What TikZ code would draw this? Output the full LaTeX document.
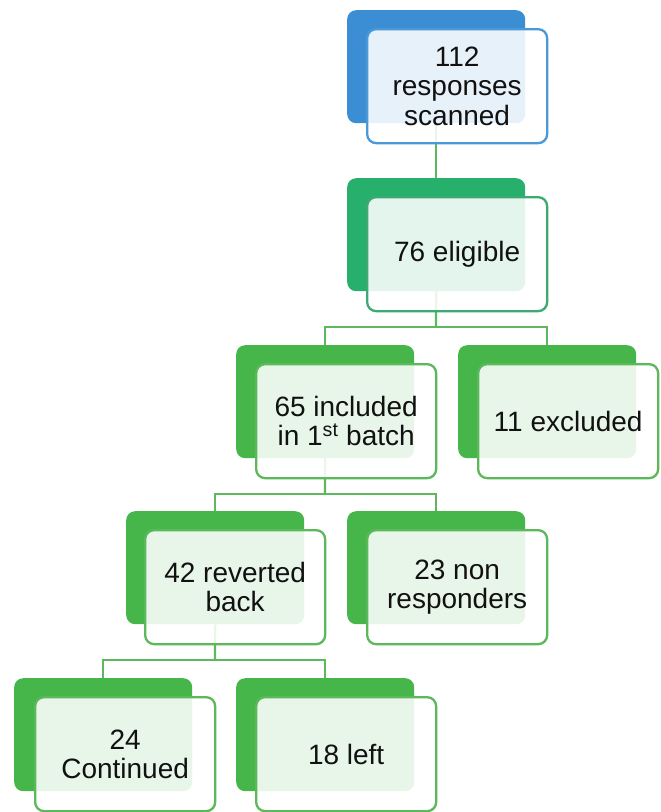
\documentclass[tikz,border=0pt]{standalone}
\usepackage{fontspec}
\setmainfont{Liberation Sans}
\definecolor{blueback}{HTML}{3B8ED3}
\definecolor{blueline}{HTML}{4A98D8}
\definecolor{tealback}{HTML}{26B06C}
\definecolor{tealline}{HTML}{3CAA72}
\definecolor{greenback}{HTML}{46B64B}
\definecolor{greenline}{HTML}{5BB85B}
\definecolor{linkgreen}{HTML}{5DB85E}
\definecolor{txt}{HTML}{111111}
\tikzset{
  backbox/.style={draw=none, rounded corners=9pt, minimum width=178pt, minimum height=113pt, anchor=north west, inner sep=0pt},
  frontbox/.style={rounded corners=9pt, minimum width=180pt, minimum height=114pt, anchor=north west, fill=white, fill opacity=0.88, text opacity=1, line width=2.3pt, align=center, font=\fontsize{28}{29.5}\selectfont, inner sep=0pt, text=txt},
  conn/.style={draw=linkgreen, line width=2.2pt}
}
\begin{document}
\begin{tikzpicture}[x=1pt,y=1pt]
\useasboundingbox (0,0) rectangle (661,-812);
% back boxes
\node[backbox, fill=blueback]  (b1back) at (347,-10)  {};
\node[backbox, fill=tealback]  (b2back) at (347,-178) {};
\node[backbox, fill=greenback] (b3back) at (236,-345) {};
\node[backbox, fill=greenback] (b4back) at (458,-345) {};
\node[backbox, fill=greenback] (b5back) at (126,-511) {};
\node[backbox, fill=greenback] (b6back) at (347,-511) {};
\node[backbox, fill=greenback] (b7back) at (14,-678)  {};
\node[backbox, fill=greenback] (b8back) at (236,-678) {};
% split points
\coordinate (s2) at (436,-327);
\coordinate (s3) at (325,-494);
\coordinate (s5) at (215,-660);
% connectors
\draw[conn] (b1back.south) -- (b2back.north);
\draw[conn] (b2back.south) -- (s2);
\draw[conn] (b3back.north) |- (s2);
\draw[conn] (b4back.north) |- (s2);
\draw[conn] (b3back.south) -- (s3);
\draw[conn] (b5back.north) |- (s3);
\draw[conn] (b6back.north) |- (s3);
\draw[conn] (b5back.south) -- (s5);
\draw[conn] (b7back.north) |- (s5);
\draw[conn] (b8back.north) |- (s5);
% front boxes
\node[frontbox, draw=blueline]  (b1) at (366,-28)  {112\\responses\\scanned};
\node[frontbox, draw=tealline]  (b2) at (366,-196) {76 eligible};
\node[frontbox, draw=greenline] (b3) at (255,-363) {65 included\\in 1\textsuperscript{st} batch};
\node[frontbox, draw=greenline] (b4) at (477,-363) {11 excluded};
\node[frontbox, draw=greenline] (b5) at (144,-529) {42 reverted\\back};
\node[frontbox, draw=greenline] (b6) at (366,-529) {23 non\\responders};
\node[frontbox, draw=greenline] (b7) at (34,-696)  {24\\Continued};
\node[frontbox, draw=greenline] (b8) at (255,-696) {18 left};
\end{tikzpicture}
\end{document}
